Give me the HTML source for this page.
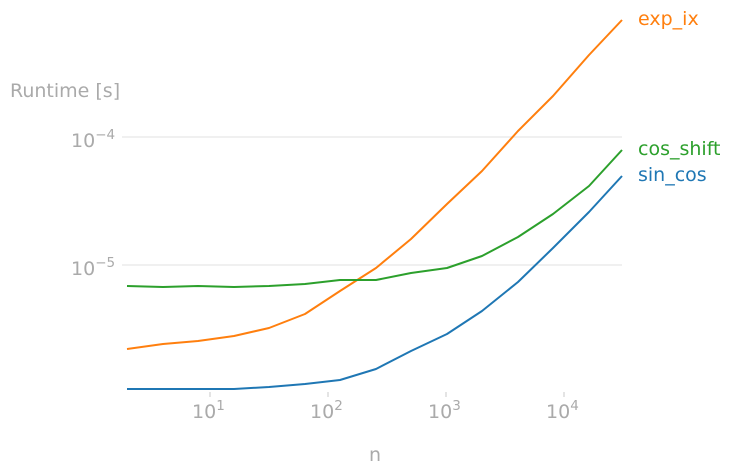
<!DOCTYPE html>
<html><head><meta charset="utf-8"><style>body{margin:0;background:#fff}svg{display:block}text{font-family:"DejaVu Sans","Liberation Sans",sans-serif}</style></head><body>
<svg width="733" height="475" viewBox="0 0 733 475" xmlns="http://www.w3.org/2000/svg">
<g stroke="#e6e6e6" stroke-width="1.2">
<line x1="122" y1="137" x2="622" y2="137"/>
<line x1="122" y1="265" x2="622" y2="265"/>
</g>
<g stroke="#c8c8c8" stroke-width="1">
<line x1="210" y1="392" x2="210" y2="397"/>
<line x1="328" y1="392" x2="328" y2="397"/>
<line x1="446" y1="392" x2="446" y2="397"/>
<line x1="564" y1="392" x2="564" y2="397"/>
</g>
<g fill="#aaaaaa" font-size="19">
<text x="10" y="97">Runtime [s]</text>
<text x="71" y="147">10<tspan font-size="13.5" dy="-8">−4</tspan></text>
<text x="71" y="275">10<tspan font-size="13.5" dy="-8">−5</tspan></text>
<text x="192" y="418">10<tspan font-size="13.5" dy="-8">1</tspan></text>
<text x="310" y="418">10<tspan font-size="13.5" dy="-8">2</tspan></text>
<text x="428" y="418">10<tspan font-size="13.5" dy="-8">3</tspan></text>
<text x="546" y="418">10<tspan font-size="13.5" dy="-8">4</tspan></text>
<text x="369" y="461">n</text>
</g>
<g fill="none" stroke-width="2" stroke-linejoin="round">
<polyline stroke="#ff7f0e" points="127,349 163,344 198,341 234,336 269,328 305,314 340,291 376,268 411,239 447,204 482,171 518,131 553,96 589,55 622,20"/>
<polyline stroke="#2ca02c" points="127,286 163,287 198,286 234,287 269,286 305,284 340,280 376,280 411,273 447,268 482,256 518,237 553,214 589,186 622,150"/>
<polyline stroke="#1f77b4" points="127,389 163,389 198,389 234,389 269,387 305,384 340,380 376,369 411,351 447,334 482,311 518,282 553,248 589,212 622,176"/>
</g>
<g font-size="19">
<text x="638" y="25" fill="#ff7f0e">exp_ix</text>
<text x="638" y="155" fill="#2ca02c">cos_shift</text>
<text x="638" y="181" fill="#1f77b4">sin_cos</text>
</g>
</svg>
</body></html>
